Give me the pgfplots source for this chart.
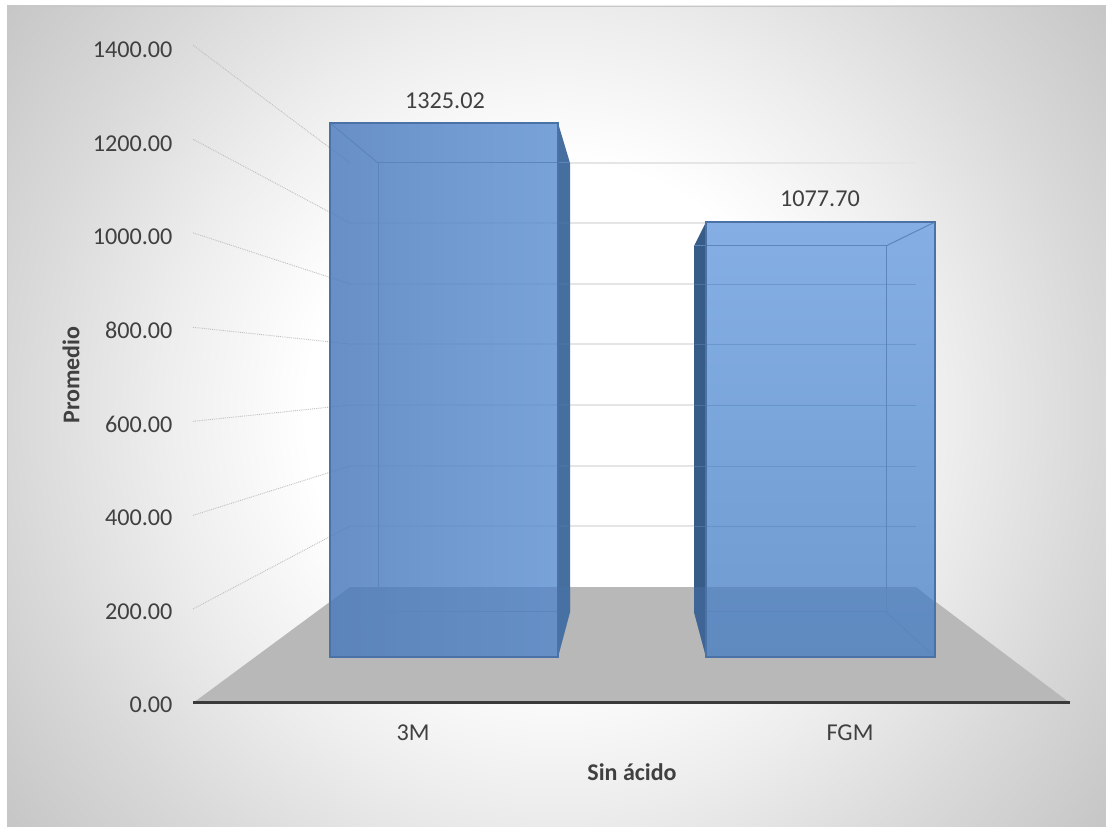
\documentclass[border=0pt]{standalone}
\usepackage{pgfplots}
\pgfplotsset{compat=1.18}
\usepackage{fontspec}
\setmainfont{Carlito}
\pgfdeclareradialshading{chartbg}{\pgfpoint{0bp}{0bp}}{
  color(0bp)=(white); color(8.9bp)=(white); color(14.1bp)=(white!93!black);
  color(19.3bp)=(white!85!black); color(24.3bp)=(white!78!black); color(25bp)=(white!78!black); color(50bp)=(white!78!black)}
\definecolor{txt}{HTML}{404040}
\definecolor{flr}{HTML}{B8B8B8}
\definecolor{edgeb}{HTML}{4A72A6}
\definecolor{innerb}{HTML}{5A86BC}
\definecolor{aleft}{HTML}{6890C6}
\definecolor{aright}{HTML}{78A3D9}
\definecolor{btop}{HTML}{85AFE4}
\definecolor{bbot}{HTML}{6E9AD0}
\definecolor{aside}{HTML}{466F9F}
\definecolor{bside}{HTML}{375C88}
\definecolor{thru}{HTML}{4A73AA}
\begin{document}
\begin{tikzpicture}[x=1pt,y=1pt]
\path[use as bounding box,fill=white] (0,0) rectangle (1106,827);
\begin{scope}
\clip (7,0) rectangle (1106,821);
\path[shading=chartbg] (-144,-285) rectangle (1256,1115);
\end{scope}
\draw[black!22,line width=0.8pt] (7,0) -- (7,821) -- (1106,821);
\begin{axis}[
  at={(193pt,124pt)},anchor=south west,scale only axis,
  width=877pt,height=655pt,
  xmin=193,xmax=1070,ymin=0,ymax=1400,
  clip=false,axis on top,
  axis x line=bottom,axis y line=left,
  x axis line style={-,draw=none},
  y axis line style={draw=none},
  major tick length=0pt,
  xtick={413,850},xticklabels={3M,FGM},
  ytick={0,200,400,600,800,1000,1200,1400},
  /pgf/number format/assume math mode=true,
  /pgf/number format/fixed,/pgf/number format/zerofill,
  /pgf/number format/precision=2,/pgf/number format/1000 sep={},
  tick label style={font=\fontsize{24.2}{28}\selectfont,text=txt},
  yticklabel style={xshift=-17pt,yshift=-2pt},
  xticklabel style={yshift=-18pt},
  xlabel={Sin ácido},ylabel={Promedio},
  label style={font=\bfseries\fontsize{24}{28}\selectfont,text=txt},
  x label style={at={(axis description cs:0.5006,-0.105)},anchor=center},
  y label style={at={(axis description cs:-0.139,0.5008)},anchor=center},
]
% floor
\addplot[draw=none,fill=flr] coordinates {(193,0)(1070,0)(916,247.9)(350,247.9)} --cycle;
% axis line
\addplot[txt!90!black,line width=3pt] coordinates {(193,0)(1070,0)};
% back wall grid
\addplot[black!10,line width=1.6pt] coordinates {(350,1154.2)(916,1154.2)};
\addplot[black!10,line width=1.6pt] coordinates {(350,1026.0)(916,1026.0)};
\addplot[black!10,line width=1.6pt] coordinates {(350,895.6)(916,895.6)};
\addplot[black!10,line width=1.6pt] coordinates {(350,767.3)(916,767.3)};
\addplot[black!10,line width=1.6pt] coordinates {(350,636.9)(916,636.9)};
\addplot[black!10,line width=1.6pt] coordinates {(350,506.6)(916,506.6)};
\addplot[black!10,line width=1.6pt] coordinates {(350,378.3)(916,378.3)};
% left wall grid
\addplot[black!25,densely dotted,line width=0.9pt] coordinates {(193,1406)(350,1154.2)};
\addplot[black!25,densely dotted,line width=0.9pt] coordinates {(193,1205)(350,1026.0)};
\addplot[black!25,densely dotted,line width=0.9pt] coordinates {(193,1005)(350,895.6)};
\addplot[black!25,densely dotted,line width=0.9pt] coordinates {(193,803)(350,767.3)};
\addplot[black!25,densely dotted,line width=0.9pt] coordinates {(193,602)(350,636.9)};
\addplot[black!25,densely dotted,line width=0.9pt] coordinates {(193,401)(350,506.6)};
\addplot[black!25,densely dotted,line width=0.9pt] coordinates {(193,201)(350,378.3)};
% bar 3M: side and front
\addplot[draw=none,fill=aside] coordinates {(558,1239.7)(570,1154.2)(570,194.5)(558,98.3)} --cycle;
\addplot[draw=none,left color=aleft,right color=aright] coordinates {(330,1239.7)(558,1239.7)(558,98.3)(330,98.3)} --cycle;
% bar FGM: side and front
\addplot[draw=none,fill=bside] coordinates {(706,1028.1)(694,976.8)(694,194.5)(706,98.3)} --cycle;
\addplot[draw=none,top color=btop,bottom color=bbot] coordinates {(706,1028.1)(935,1028.1)(935,98.3)(706,98.3)} --cycle;
% floor seen through the bars
\addplot[draw=none,fill=thru,fill opacity=0.4] coordinates {(350,247.9)(570,247.9)(570,194.5)(558,98.3)(330,98.3)(330,215.9)} --cycle;
\addplot[draw=none,fill=thru,fill opacity=0.4] coordinates {(694,247.9)(916,247.9)(935,215.9)(935,98.3)(706,98.3)(694,194.5)} --cycle;
% grid seen through the bars
\addplot[innerb,opacity=0.5,line width=0.8pt] coordinates {(330,1186.3)(350,1154.2)};
\addplot[innerb,opacity=0.5,line width=0.8pt] coordinates {(330,1048.8)(350,1026.0)(570,1026.0)};
\addplot[innerb,opacity=0.5,line width=0.8pt] coordinates {(330,909.5)(350,895.6)(570,895.6)};
\addplot[innerb,opacity=0.5,line width=0.8pt] coordinates {(330,771.8)(350,767.3)(570,767.3)};
\addplot[innerb,opacity=0.5,line width=0.8pt] coordinates {(330,632.5)(350,636.9)(570,636.9)};
\addplot[innerb,opacity=0.5,line width=0.8pt] coordinates {(330,493.1)(350,506.6)(570,506.6)};
\addplot[innerb,opacity=0.5,line width=0.8pt] coordinates {(330,355.7)(350,378.3)(570,378.3)};
\addplot[innerb,opacity=0.5,line width=0.8pt] coordinates {(694,895.6)(916,895.6)};
\addplot[innerb,opacity=0.5,line width=0.8pt] coordinates {(694,767.3)(916,767.3)};
\addplot[innerb,opacity=0.5,line width=0.8pt] coordinates {(694,636.9)(916,636.9)};
\addplot[innerb,opacity=0.5,line width=0.8pt] coordinates {(694,506.6)(916,506.6)};
\addplot[innerb,opacity=0.5,line width=0.8pt] coordinates {(694,378.3)(916,378.3)};
% inner edges
\addplot[innerb,line width=1pt] coordinates {(378,194.5)(378,1154.2)(570,1154.2)};
\addplot[innerb,line width=1pt] coordinates {(378,194.5)(558,194.5)};
\addplot[innerb,line width=1pt] coordinates {(330,1239.7)(378,1154.2)};
\addplot[innerb,line width=1pt] coordinates {(330,98.3)(378,194.5)};
\addplot[innerb,line width=1pt] coordinates {(886,194.5)(886,976.8)(694,976.8)};
\addplot[innerb,line width=1pt] coordinates {(886,194.5)(706,194.5)};
\addplot[innerb,line width=1pt] coordinates {(935,1028.1)(886,976.8)};
\addplot[innerb,line width=1pt] coordinates {(935,98.3)(886,194.5)};
% front outlines
\addplot[edgeb,line width=1.5pt] coordinates {(330,1239.7)(558,1239.7)(558,98.3)(330,98.3)} --cycle;
\addplot[edgeb,line width=1.5pt] coordinates {(706,1028.1)(935,1028.1)(935,98.3)(706,98.3)} --cycle;
% value labels
\node[font=\fontsize{24.2}{28}\selectfont,text=txt] at (axis cs:445,1287) {1325.02};
\node[font=\fontsize{24.2}{28}\selectfont,text=txt] at (axis cs:820,1078) {1077.70};
\end{axis}
\end{tikzpicture}
\end{document}
